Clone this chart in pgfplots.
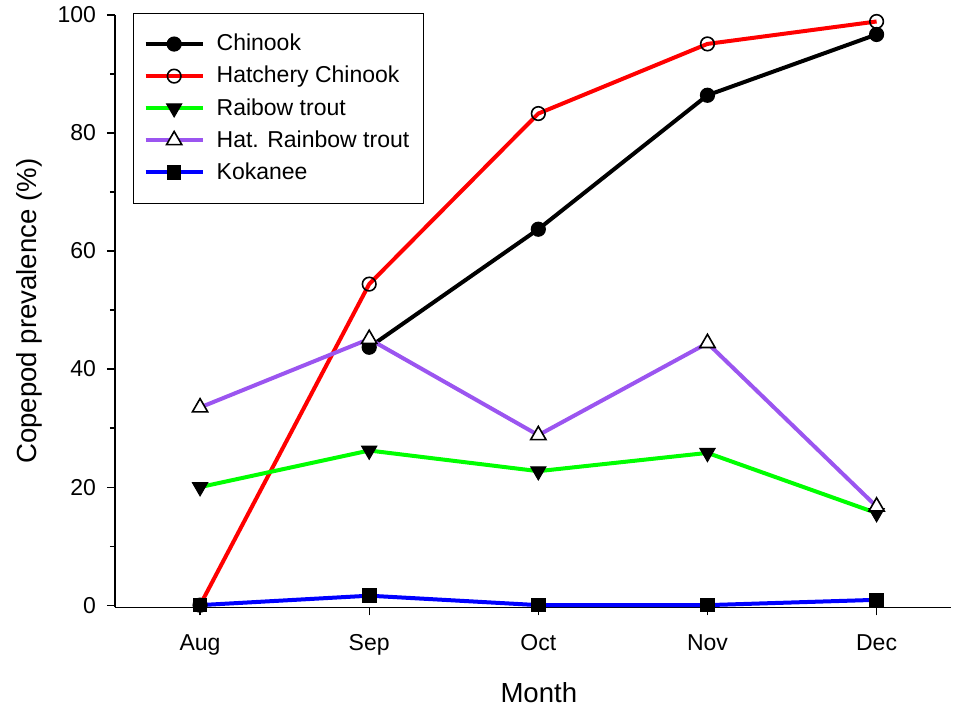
\documentclass[border=0pt]{standalone}
\usepackage{pgfplots}
\pgfplotsset{compat=1.18}
\usepackage{fontspec}
\setmainfont{Liberation Sans}

\definecolor{hatpurple}{RGB}{155,85,240}

\begin{document}
\begin{tikzpicture}
\begin{axis}[
  scale only axis,
  width=418pt, height=296.25pt,
  xmin=-0.503, xmax=4.44,
  ymin=-0.4, ymax=100,
  axis x line*=bottom, axis y line*=left,
  axis line style={-, line width=0.6pt},
  xtick={0,1,2,3,4},
  xticklabels={Aug,Sep,Oct,Nov,Dec},
  ytick={0,20,40,60,80,100},
  minor ytick={10,30,50,70,90},
  tick align=outside,
  major tick length=4pt, minor tick length=2.6pt,
  tick style={black, line width=0.6pt},
  /pgf/number format/assume math mode=true,
  ticklabel style={font=\fontsize{11.5}{13}\selectfont},
  xticklabel style={yshift=-6pt},
  yticklabel style={xshift=-2pt},
  label style={font=\fontsize{13.8}{16}\selectfont},
  xlabel={Month},
  ylabel={Copepod prevalence (\%)},
  xlabel style={at={(axis description cs:0.507,0)}, anchor=center, yshift=-42.5pt},
  ylabel style={at={(axis description cs:-0.103,0.5)}, anchor=center},
  legend style={at={(0.0216,1.004)}, anchor=north west,
    draw=black, line width=0.6pt,
    font=\fontsize{11.5}{13}\selectfont,
    row sep=2.2pt, inner xsep=5pt, inner ysep=8.5pt,
    cells={anchor=west},
    /tikz/every odd column/.append style={column sep=4pt}},
  legend cell align=left,
  legend image code/.code={%
    \draw[mark repeat=2,mark phase=2] plot coordinates {(0pt,0pt) (14.25pt,0pt) (28.5pt,0pt)};},
  every axis plot/.append style={line width=2pt},
  clip=false,
]
% Chinook
\addplot[black, mark=*, mark size=3.5pt, mark options={solid, fill=black, line width=0.6pt}]
  coordinates {(1,43.7) (2,63.7) (3,86.4) (4,96.7)};
\addlegendentry{Chinook}
% Hatchery Chinook
\addplot[red, mark=o, mark size=3.4pt, mark options={solid, draw=black, fill=white, line width=0.8pt}]
  coordinates {(0,0) (1,54.4) (2,83.3) (3,95.1) (4,98.9)};
\addlegendentry{Hatchery Chinook}
% Rainbow trout
\addplot[green, mark=triangle*, mark size=4.4pt, mark options={solid, fill=black, draw=black, rotate=180, line width=0.5pt}]
  coordinates {(0,20.0) (1,26.2) (2,22.7) (3,25.8) (4,15.6)};
\addlegendentry{Raibow trout}
% Hatchery rainbow trout
\addplot[hatpurple, mark=triangle*, mark size=4.4pt, mark options={solid, fill=white, draw=black, line width=0.8pt}]
  coordinates {(0,33.5) (1,45.1) (2,28.8) (3,44.4) (4,16.7)};
\addlegendentry{Hat. Rainbow trout}
% Kokanee
\addplot[blue, mark=square*, mark size=3.4pt, mark options={solid, fill=black, draw=black, line width=0.5pt}]
  coordinates {(0,0) (1,1.6) (2,0) (3,0) (4,0.9)};
\addlegendentry{Kokanee}
\end{axis}
\pgfresetboundingbox
\useasboundingbox ([xshift=-57.5pt,yshift=-51.25pt]current axis.south west) rectangle ([xshift=1pt,yshift=7.5pt]current axis.north east);
\end{tikzpicture}
\end{document}
